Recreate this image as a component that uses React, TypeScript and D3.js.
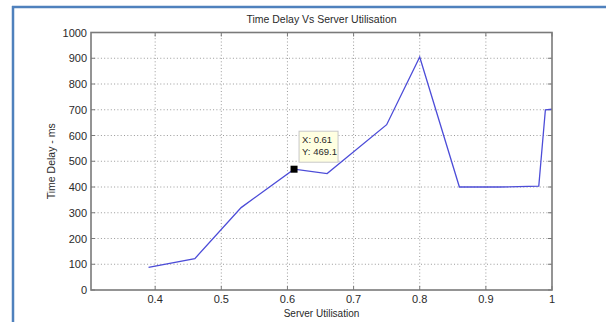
import React from 'react';
import * as d3 from 'd3';

// chart values
const utilisation = [0.39, 0.46, 0.53, 0.61, 0.66, 0.75, 0.8, 0.86, 0.92, 0.98, 0.99, 1.0];
const delay = [88, 122, 320, 469.1, 452, 642, 905, 400, 400, 403, 700, 702];
const xTickValues = [0.4, 0.5, 0.6, 0.7, 0.8, 0.9, 1];
const xTickLabels = ['0.4', '0.5', '0.6', '0.7', '0.8', '0.9', '1'];
const yTickValues = [0, 100, 200, 300, 400, 500, 600, 700, 800, 900, 1000];
const tipIndex = 3;
const tipLabels = ['X: 0.61', 'Y: 469.1'];

const title = 'Time Delay Vs Server Utilisation';
const xTitle = 'Server Utilisation';
const yTitle = 'Time Delay - ms';

export default function App() {
  const width = 606;
  const height = 322;
  const margin = { top: 32.5, right: 54, bottom: 32, left: 91 };
  const font = 'Liberation Sans, Arial, sans-serif';
  const textColor = '#2a2a2a';

  const x = d3.scaleLinear().domain([0.303, 1]).range([margin.left, width - margin.right]);
  const y = d3.scaleLinear().domain([0, 1000]).range([height - margin.bottom, margin.top]);

  const points = utilisation.map((u, i) => ({ u, d: delay[i] }));
  const line = d3.line<{ u: number; d: number }>()
    .x(p => x(p.u))
    .y(p => y(p.d));

  const [x0, x1] = x.range();
  const [y0, y1] = y.range();
  const tick = 4;

  const tipX = x(utilisation[tipIndex]);
  const tipY = y(delay[tipIndex]);

  return (
    <svg
      width={width}
      height={height}
      style={{ position: 'absolute', left: 0, top: 0, background: '#fff' }}
      fontFamily={font}
    >
      {/* frame */}
      <line x1={13} x2={13} y1={6} y2={height} stroke="#4f81bd" strokeWidth={2.5} />
      <line x1={12} x2={width} y1={7} y2={7} stroke="#4f81bd" strokeWidth={2.5} />

      {/* grid */}
      {xTickValues.filter(v => v < 1).map((v, i) => (
        <line key={'gx' + i} x1={x(v)} x2={x(v)} y1={y0} y2={y1}
          stroke="#9a9a9a" strokeWidth={1} strokeDasharray="1 2.3" />
      ))}
      {yTickValues.filter(v => v > 0 && v < 1000).map((v, i) => (
        <line key={'gy' + i} x1={x0} x2={x1} y1={y(v)} y2={y(v)}
          stroke="#9a9a9a" strokeWidth={1} strokeDasharray="1 2.3" />
      ))}

      {/* ticks on all sides */}
      {xTickValues.map((v, i) => (
        <g key={'tx' + i} stroke="#7a7a7a" strokeWidth={1}>
          <line x1={x(v)} x2={x(v)} y1={y0} y2={y0 - tick} />
          <line x1={x(v)} x2={x(v)} y1={y1} y2={y1 + tick} />
        </g>
      ))}
      {yTickValues.map((v, i) => (
        <g key={'ty' + i} stroke="#7a7a7a" strokeWidth={1}>
          <line x1={x0} x2={x0 + tick} y1={y(v)} y2={y(v)} />
          <line x1={x1} x2={x1 - tick} y1={y(v)} y2={y(v)} />
        </g>
      ))}

      {/* data line */}
      <path d={line(points) || ''} fill="none" stroke="#4c4cd8" strokeWidth={1.3} />

      {/* axes box */}
      <rect x={x0} y={y1} width={x1 - x0} height={y0 - y1} fill="none" stroke="#7a7a7a" strokeWidth={1.6} />

      {/* tick labels */}
      {xTickValues.map((v, i) => (
        <text key={'lx' + i} x={x(v)} y={y0 + 12.5} textAnchor="middle" fontSize={11} fill={textColor}>
          {xTickLabels[i]}
        </text>
      ))}
      {yTickValues.map((v, i) => (
        <text key={'ly' + i} x={x0 - 4} y={y(v) + 4} textAnchor="end" fontSize={11} fill={textColor}>
          {v}
        </text>
      ))}

      {/* titles */}
      <text x={(x0 + x1) / 2} y={23} textAnchor="middle" fontSize={10.5} fill={textColor}>{title}</text>
      <text x={(x0 + x1) / 2} y={317} textAnchor="middle" fontSize={10} fill={textColor}>{xTitle}</text>
      <text
        transform={`translate(55, ${(y0 + y1) / 2}) rotate(-90)`}
        textAnchor="middle"
        fontSize={10.5}
        fill={textColor}
      >
        {yTitle}
      </text>

      {/* data tip */}
      <rect x={tipX - 3.5} y={tipY - 3.5} width={7} height={7} fill="#000" />
      <rect x={tipX + 5} y={tipY - 38} width={39} height={31} fill="#ffffe1" stroke="#c8c8c8" strokeWidth={1} />
      {tipLabels.map((t, i) => (
        <text key={'tip' + i} x={tipX + 8} y={tipY - 26 + i * 12} fontSize={9.5} fill={textColor}>{t}</text>
      ))}
    </svg>
  );
}
